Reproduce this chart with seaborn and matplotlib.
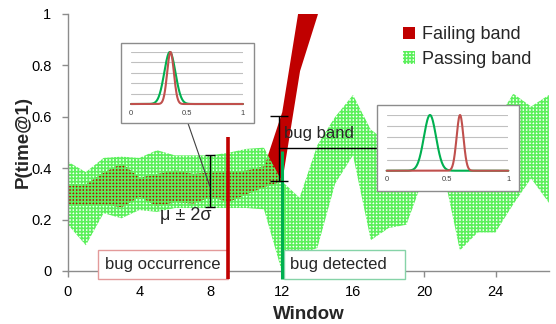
import numpy as np
import matplotlib
matplotlib.use('Agg')
import matplotlib.pyplot as plt
from matplotlib.patches import Patch, Rectangle
import seaborn as sns

# Band limits per window
windows = list(range(28))
pass_lo = [0.18, 0.10, 0.225, 0.205, 0.237, 0.23, 0.245, 0.245, 0.245, 0.245,
           0.245, 0.24, 0.0, 0.06, 0.09, 0.34, 0.45, 0.12, 0.167, 0.18,
           0.37, 0.41, 0.08, 0.15, 0.15, 0.26, 0.36, 0.265]
pass_hi = [0.425, 0.385, 0.44, 0.445, 0.44, 0.47, 0.45, 0.45, 0.45, 0.46,
           0.475, 0.48, 0.35, 0.285, 0.49, 0.60, 0.685, 0.55, 0.50, 0.52,
           0.60, 0.58, 0.50, 0.55, 0.58, 0.69, 0.64, 0.685]

fail_windows = list(range(15))
fail_lo = [0.257, 0.257, 0.26, 0.25, 0.29, 0.253, 0.27, 0.264, 0.29, 0.27,
           0.30, 0.328, 0.35, 0.78, 1.0]
fail_hi = [0.34, 0.34, 0.386, 0.42, 0.365, 0.38, 0.393, 0.38, 0.386, 0.386,
           0.393, 0.41, 0.62, 1.05, 1.4]

x_ticks = [0, 4, 8, 12, 16, 20, 24]
y_ticks = [0, 0.2, 0.4, 0.6, 0.8, 1]
y_labels = ['0', '0.2', '0.4', '0.6', '0.8', '1']

bug_occurrence = 9
bug_detected = 12

# mu +- 2 sigma bar and bug band bracket
sigma_window, sigma_mean, sigma_half = 8, 0.35, 0.10
band_window, band_mean, band_half = 11.85, 0.477, 0.127

# inset distributions (mean, std), scaled to peak 1
inset1_dists = [(0.347, 0.05), (0.353, 0.03)]
inset2_dists = [(0.356, 0.05), (0.603, 0.028)]
inset_ticks = [0, 0.5, 1]
inset_labels = ['0', '0.5', '1']

RED = '#C00000'
HATCH_GREEN = '#5CF05C'
LINE_GREEN = '#00B050'
CURVE_RED = '#C0504D'
HATCH = '+++++'

sns.set_theme(style='ticks')
plt.rcParams['font.family'] = ['Liberation Sans', 'DejaVu Sans']
plt.rcParams['hatch.linewidth'] = 1.2

fig = plt.figure(figsize=(5.56, 3.24), dpi=100)
ax = fig.add_axes([0.1223, 0.1636, 0.865, 0.7932])

# Bands
ax.fill_between(fail_windows, fail_lo, fail_hi, color=RED, lw=0, zorder=1)
ax.fill_between(windows, pass_lo, pass_hi, facecolor='none', edgecolor=HATCH_GREEN,
                hatch=HATCH, lw=0, zorder=2)

ax.set_xlim(0, 27)
ax.set_ylim(0, 1)
ax.set_xticks(x_ticks)
ax.set_yticks(y_ticks, labels=y_labels)
for s in ['top', 'right']:
    ax.spines[s].set_visible(False)
for s in ['left', 'bottom']:
    ax.spines[s].set_color('#8C8C8C')
    ax.spines[s].set_linewidth(1)
ax.tick_params(direction='out', length=4, width=1, color='#8C8C8C',
               labelsize=10.5, labelcolor='black')
ax.tick_params(axis='y', pad=8)
ax.tick_params(axis='x', pad=6)

ax.set_xlabel('Window', fontsize=13.5, fontweight='bold')
ax.set_ylabel('P(time@1)', fontsize=13.5, fontweight='bold')
ax.xaxis.set_label_coords(0.5, -0.135)
ax.yaxis.set_label_coords(-0.076, 0.5)

# Bug occurrence / detection lines
ax.plot([bug_occurrence, bug_occurrence], [-0.03, 0.52], color=RED, lw=2.6,
        clip_on=False, zorder=6, solid_capstyle='butt')
ax.plot([bug_detected, bug_detected], [-0.03, 0.465], color=LINE_GREEN, lw=2.2,
        clip_on=False, zorder=6, solid_capstyle='butt')

# Label boxes
ax.add_patch(Rectangle((1.68, -0.03), bug_occurrence - 1.68, 0.112, fc='white',
                       ec='#E39A9A', lw=1, clip_on=False, zorder=5))
ax.text(5.3, 0.027, 'bug occurrence', fontsize=12, ha='center', va='center', zorder=7)
ax.add_patch(Rectangle((bug_detected + 0.1, -0.03), 6.8, 0.112, fc='white',
                       ec='#86D3A8', lw=1, clip_on=False, zorder=5))
ax.text(12.45, 0.027, 'bug detected', fontsize=12, ha='left', va='center', zorder=7)

# mu +- 2 sigma
ax.errorbar(sigma_window, sigma_mean, yerr=sigma_half, fmt='none', ecolor='black',
            elinewidth=1, capsize=3.8, capthick=1, zorder=6)
ax.text(6.6, 0.215, 'μ ± 2σ', fontsize=13, ha='center', va='center', zorder=7)

# bug band bracket
ax.errorbar(band_window, band_mean, yerr=band_half, fmt='none', ecolor='black',
            elinewidth=1, capsize=6.5, capthick=1, zorder=6)
ax.plot([band_window, 17.4], [band_mean, band_mean], color='black', lw=1,
        zorder=6, clip_on=False)
ax.text(12.1, 0.535, 'bug band', fontsize=12, ha='left', va='center', zorder=7)

# connector from first inset
ax.plot([6.73, 7.96], [0.576, 0.33], color='#404040', lw=0.8, zorder=6, clip_on=False)

# Legend
handles = [Patch(facecolor=RED, edgecolor='none', label='Failing band'),
           Patch(facecolor='none', edgecolor=HATCH_GREEN, hatch=HATCH, lw=0,
                 label='Passing band')]
leg = ax.legend(handles=handles, loc='upper left', bbox_to_anchor=(0.696, 0.952),
                frameon=False, fontsize=13, handlelength=0.7, handleheight=0.7,
                handletextpad=0.35, labelspacing=0.42, borderpad=0, borderaxespad=0)


def draw_inset(box, area, dists):
    fig.add_artist(Rectangle(box[:2], box[2], box[3], transform=fig.transFigure,
                             fc='white', ec='#8C8C8C', lw=1, zorder=5))
    iax = fig.add_axes(area, zorder=6)
    iax.patch.set_alpha(0)
    xs = np.linspace(0, 1, 301)
    for g in [0.2, 0.4, 0.6, 0.8, 1.0]:
        iax.axhline(g, color='#C0C0C0', lw=0.8, zorder=0)
    for (mu, sd), col in zip(dists, [LINE_GREEN, CURVE_RED]):
        ys = np.exp(-0.5 * ((xs - mu) / sd) ** 2)
        sns.lineplot(x=xs, y=ys, color=col, lw=1.5, ax=iax, clip_on=False)
    iax.set_xlim(0, 1)
    iax.set_ylim(0, 1)
    iax.set_xticks(inset_ticks, labels=inset_labels)
    iax.set_yticks([])
    iax.set_xlabel('')
    iax.set_ylabel('')
    iax.tick_params(length=0, labelsize=5.5, labelcolor='#404040', pad=4)
    for s in iax.spines.values():
        s.set_visible(False)


draw_inset((0.2176, 0.6204, 0.2392, 0.2469), (0.2356, 0.679, 0.2014, 0.1605), inset1_dists)
draw_inset((0.678, 0.4105, 0.2554, 0.2654), (0.6955, 0.4731, 0.2187, 0.172), inset2_dists)

fig.savefig('out.png', dpi=100)
